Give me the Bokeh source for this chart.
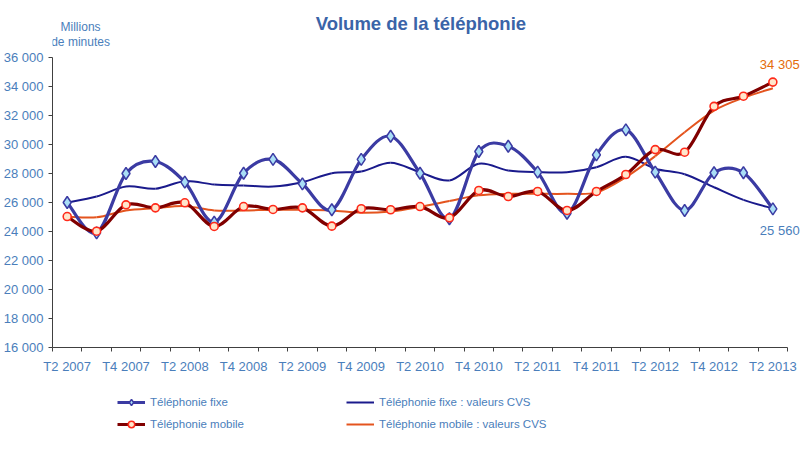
from bokeh.plotting import figure
from bokeh.layouts import column
from bokeh.models import Range1d, FixedTicker, Label, Legend, LegendItem, ColumnDataSource
from bokeh.embed import file_html
from bokeh.resources import INLINE

# ---------------- data ----------------
quarters = ["T2 2007", "T3 2007", "T4 2007", "T1 2008", "T2 2008", "T3 2008", "T4 2008",
            "T1 2009", "T2 2009", "T3 2009", "T4 2009", "T1 2010", "T2 2010", "T3 2010",
            "T4 2010", "T1 2011", "T2 2011", "T3 2011", "T4 2011", "T1 2012", "T2 2012",
            "T3 2012", "T4 2012", "T1 2013", "T2 2013"]

fixe = [26000, 23900, 28000, 28830, 27400, 24640, 28020, 28970, 27290, 25500, 28970, 30570,
        28020, 24880, 29520, 29880, 28090, 25260, 29290, 31010, 28090, 25450, 28050, 28050, 25560]
fixe_cvs = [26000, 26410, 27100, 26950, 27470, 27240, 27170, 27100, 27400, 28020, 28140, 28740,
            28090, 27520, 28670, 28210, 28090, 28090, 28430, 29150, 28330, 27950, 27050, 26180, 25590]
mobile = [25030, 24020, 25840, 25630, 25980, 24350, 25720, 25520, 25630, 24370, 25570, 25500,
          25720, 24940, 26830, 26410, 26760, 25450, 26760, 27930, 29650, 29470, 32630, 33330, 34305]
mobile_cvs = [25030, 24980, 25450, 25610, 25750, 25450, 25450, 25500, 25500, 25450, 25290, 25380,
              25700, 26100, 26500, 26600, 26600, 26600, 26700, 27750, 29200, 30850, 32340, 33220, 33880]

y_ticks = [16000, 18000, 20000, 22000, 24000, 26000, 28000, 30000, 32000, 34000, 36000]

series_names = ["Téléphonie fixe", "Téléphonie mobile",
                "Téléphonie fixe : valeurs CVS", "Téléphonie mobile : valeurs CVS"]
title_text = "Volume de la téléphonie"
unit_text = "Millions\nde minutes"

# ---------------- styles / layout ----------------
FONT = "Liberation Sans"
C_FIXE = "#3b3ba3"
C_FIXE_CVS = "#1a1a8c"
C_MOB = "#800000"
C_MOB_CVS = "#e4541e"
C_TEXT = "#4a7ebb"
C_AXIS = "#404040"
DIAMOND_FILL = "#a9def6"
CIRCLE_FILL = "#ffe6cc"
CIRCLE_LINE = "#ff2a1a"

W = 800
H_HEAD, H_MAIN, H_LEG = 49, 331, 70
LEFT = 49                      # y-axis panel width
Y0, Y1 = 16000, 36000          # axis extent
PX_Y = (Y1 - Y0) / 290.0       # value per pixel (axis 290 px tall)
TOP_PAD = 8
X0, X1 = -0.5, 24.5
PX_X = (X1 - X0) / (787.0 - LEFT)
RIGHT_PAD = W - 787


def bare_figure(h):
    f = figure(width=W, height=h, output_backend="svg", toolbar_location=None,
               x_range=Range1d(0, W), y_range=Range1d(0, h),
               x_axis_type=None, y_axis_type=None, min_border=0)
    f.outline_line_color = None
    f.xgrid.visible = False
    f.ygrid.visible = False
    return f


# ---------------- header: title and unit ----------------
head = bare_figure(H_HEAD)
head.add_layout(Label(x=394, y=H_HEAD - 23, text=title_text, text_align="center",
                      text_baseline="middle", text_font=FONT, text_font_size="18.5px",
                      text_font_style="bold", text_color="#3a64a8"))
head.add_layout(Label(x=30, y=H_HEAD - 34, text=unit_text, text_align="center",
                      text_baseline="middle", text_font=FONT, text_font_size="12px",
                      text_color=C_TEXT, text_line_height=1.05))

# ---------------- main chart ----------------
x = list(range(len(quarters)))

p = figure(width=W, height=H_MAIN, output_backend="svg", toolbar_location=None,
           x_range=Range1d(X0, X1 + RIGHT_PAD * PX_X),
           y_range=Range1d(Y0, Y1 + TOP_PAD * PX_Y),
           min_border_left=LEFT, min_border_right=0, min_border_top=0,
           min_border_bottom=33)
p.outline_line_color = None
p.xgrid.visible = False
p.ygrid.visible = False

xa = p.xaxis[0]
xa.bounds = (X0, X1)
xa.ticker = FixedTicker(ticks=list(range(0, len(quarters), 2)),
                        minor_ticks=[i - 0.5 for i in range(len(quarters) + 1)])
xa.major_label_overrides = {i: quarters[i] for i in range(0, len(quarters), 2)}
xa.major_tick_in = 0
xa.major_tick_out = 0
xa.minor_tick_in = 0
xa.minor_tick_out = 4
xa.minor_tick_line_color = C_AXIS
xa.axis_line_color = C_AXIS
xa.major_label_standoff = 7
xa.major_label_text_font = FONT
xa.major_label_text_font_size = "13px"
xa.major_label_text_color = C_TEXT

ya = p.yaxis[0]
ya.bounds = (Y0, Y1)
ya.ticker = FixedTicker(ticks=y_ticks)
ya.major_label_overrides = {v: f"{v:,}".replace(",", " ") for v in y_ticks}
ya.major_tick_in = 0
ya.major_tick_out = 4
ya.minor_tick_out = 0
ya.minor_tick_in = 0
ya.major_tick_line_color = C_AXIS
ya.axis_line_color = C_AXIS
ya.major_label_standoff = 5
ya.major_label_text_font = FONT
ya.major_label_text_font_size = "13px"
ya.major_label_text_color = C_TEXT


def smooth_segments(xs, ys):
    """Bezier control points (Catmull-Rom style, like Excel smoothed lines)."""
    n = len(xs)
    d = {k: [] for k in ("x0", "y0", "x1", "y1", "cx0", "cy0", "cx1", "cy1")}
    for i in range(n - 1):
        a = i - 1 if i > 0 else i
        b = i + 2 if i + 2 < n else i + 1
        d["x0"].append(xs[i]); d["y0"].append(ys[i])
        d["x1"].append(xs[i + 1]); d["y1"].append(ys[i + 1])
        d["cx0"].append(xs[i] + (xs[i + 1] - xs[a]) / 6)
        d["cy0"].append(ys[i] + (ys[i + 1] - ys[a]) / 6)
        d["cx1"].append(xs[i + 1] - (xs[b] - xs[i]) / 6)
        d["cy1"].append(ys[i + 1] - (ys[b] - ys[i]) / 6)
    return ColumnDataSource(d)


def curve(ys, color, width):
    p.bezier(x0="x0", y0="y0", x1="x1", y1="y1", cx0="cx0", cy0="cy0", cx1="cx1", cy1="cy1",
             source=smooth_segments(x, ys), line_color=color, line_width=width)


curve(fixe_cvs, C_FIXE_CVS, 2)
curve(mobile_cvs, C_MOB_CVS, 2)
curve(fixe, C_FIXE, 3.2)
curve(mobile, C_MOB, 3.2)

p.scatter(x, fixe, marker="diamond", size=12, fill_color=DIAMOND_FILL, line_color=C_FIXE,
          line_width=1.5)
p.scatter(x, mobile, marker="circle", size=8, fill_color=CIRCLE_FILL, line_color=CIRCLE_LINE,
          line_width=1.6)

p.add_layout(Label(x=x[-1], x_offset=-13, y=mobile[-1] + 18 * PX_Y,
                   text=f"{mobile[-1]:,}".replace(",", " "), text_align="left",
                   text_baseline="middle", text_font=FONT, text_font_size="13px",
                   text_color="#e46c0a"))
p.add_layout(Label(x=x[-1], x_offset=-13, y=fixe[-1] - 22 * PX_Y,
                   text=f"{fixe[-1]:,}".replace(",", " "), text_align="left",
                   text_baseline="middle", text_font=FONT, text_font_size="13px",
                   text_color=C_TEXT))

# ---------------- legend strip ----------------
# proxy renderers (one point placed outside the strip's visible range) give the legend samples
lg = bare_figure(H_LEG)
OUT = [-1000]
lf = lg.line(OUT, OUT, line_color=C_FIXE, line_width=3)
sf = lg.scatter(OUT, OUT, marker="diamond", fill_color=DIAMOND_FILL, line_color=C_FIXE,
                line_width=1.5)
lm = lg.line(OUT, OUT, line_color=C_MOB, line_width=3)
sm = lg.scatter(OUT, OUT, marker="circle", fill_color=CIRCLE_FILL, line_color=CIRCLE_LINE,
                line_width=1.5)
lfc = lg.line(OUT, OUT, line_color=C_FIXE_CVS, line_width=2)
lmc = lg.line(OUT, OUT, line_color=C_MOB_CVS, line_width=2)


def legend_row(items, loc):
    leg = Legend(items=items, orientation="horizontal", location=loc,
                 padding=0, margin=0, spacing=6,
                 glyph_width=28, glyph_height=16, label_height=16, label_width=190,
                 label_standoff=5, border_line_alpha=0, background_fill_alpha=0,
                 label_text_font=FONT, label_text_font_size="11.5px",
                 label_text_color=C_TEXT)
    lg.add_layout(leg)


legend_row([LegendItem(label=series_names[0], renderers=[lf, sf]),
            LegendItem(label=series_names[2], renderers=[lfc])], (65, 40))
legend_row([LegendItem(label=series_names[1], renderers=[lm, sm]),
            LegendItem(label=series_names[3], renderers=[lmc])], (65, 18))

page = column(head, p, lg, spacing=0)
open("out.html", "w").write(file_html(page, INLINE))
